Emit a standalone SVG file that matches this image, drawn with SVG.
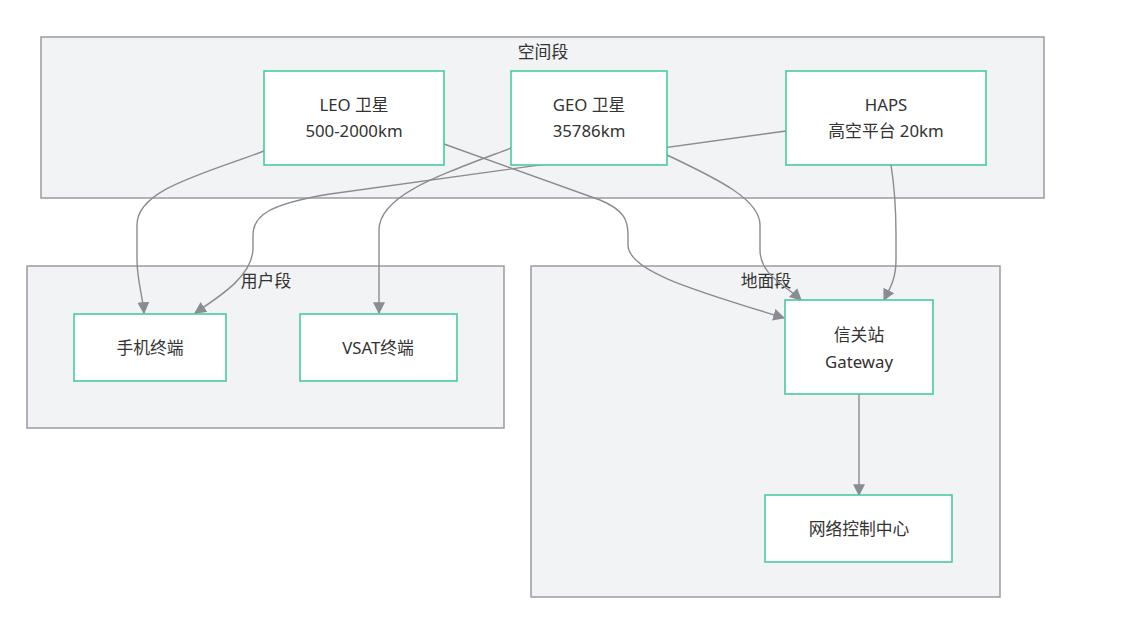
<svg xmlns="http://www.w3.org/2000/svg" width="1135" height="627" viewBox="0 0 1135 627">
<defs>
<style>
.cluster rect{fill:#f2f3f5;stroke:#9a9ba2;stroke-width:1.5}
.node rect{fill:#ffffff;stroke:#3cc79a;stroke-width:1.5}
text{font-family:"Noto Sans","Noto Sans CJK SC",sans-serif;font-size:16.8px;fill:#333333;text-anchor:middle}
.edges path{fill:none;stroke:#8a8c94;stroke-width:1.4}
</style>
<marker id="arr" viewBox="0 0 10 10" refX="9" refY="5" markerWidth="12" markerHeight="12" markerUnits="userSpaceOnUse" orient="auto">
<path d="M0,0 L10,5 L0,10 z" fill="#8a8c94"/>
</marker>
</defs>
<rect width="1135" height="627" fill="#ffffff"/>
<g id="cluster-space" class="cluster"><rect x="41" y="37" width="1003" height="161"/><text x="543" y="58">空间段</text></g>
<g id="cluster-user" class="cluster"><rect x="27" y="266" width="477" height="162"/><text x="266" y="287">用户段</text></g>
<g id="cluster-ground" class="cluster"><rect x="531" y="266" width="469" height="331"/><text x="766" y="287">地面段</text></g>
<g class="edges" id="edges">
<path d="M264,151 C200,175 137,190 137,225 L137,260 C137,280 143,298 144,313" marker-end="url(#arr)"/>
<path d="M786,131 L330,194 C270,204 253,215 253,235 L253,248 C253,275 222,295 195,313" marker-end="url(#arr)"/>
<path d="M511,148 C440,175 379,195 379,230 L379,313" marker-end="url(#arr)"/>
<path d="M444,144 L600,200 C624,210 628,220 628,235 L628,245 C628,272 700,292 784,318" marker-end="url(#arr)"/>
<path d="M667,155 C720,180 760,200 760,225 L760,250 C760,275 785,285 801,300" marker-end="url(#arr)"/>
<path d="M891,165 C895,190 896,210 896,235 L896,260 C896,280 889,290 884,300" marker-end="url(#arr)"/>
<path d="M859,394 L859,495" marker-end="url(#arr)"/>
</g>
<g id="node-leo" class="node"><rect x="264" y="71" width="180" height="94"/><text x="354" y="111">LEO 卫星</text><text x="354" y="137">500-2000km</text></g>
<g id="node-geo" class="node"><rect x="511" y="71" width="156" height="94"/><text x="589" y="111">GEO 卫星</text><text x="589" y="137">35786km</text></g>
<g id="node-haps" class="node"><rect x="786" y="71" width="200" height="94"/><text x="886" y="111">HAPS</text><text x="886" y="137">高空平台 20km</text></g>
<g id="node-phone" class="node"><rect x="74" y="314" width="152" height="67"/><text x="150" y="354">手机终端</text></g>
<g id="node-vsat" class="node"><rect x="300" y="314" width="157" height="67"/><text x="378" y="354">VSAT终端</text></g>
<g id="node-gateway" class="node"><rect x="785" y="300" width="148" height="94"/><text x="859" y="341">信关站</text><text x="859" y="368">Gateway</text></g>
<g id="node-ncc" class="node"><rect x="765" y="495" width="187" height="67"/><text x="859" y="535">网络控制中心</text></g>
</svg>
